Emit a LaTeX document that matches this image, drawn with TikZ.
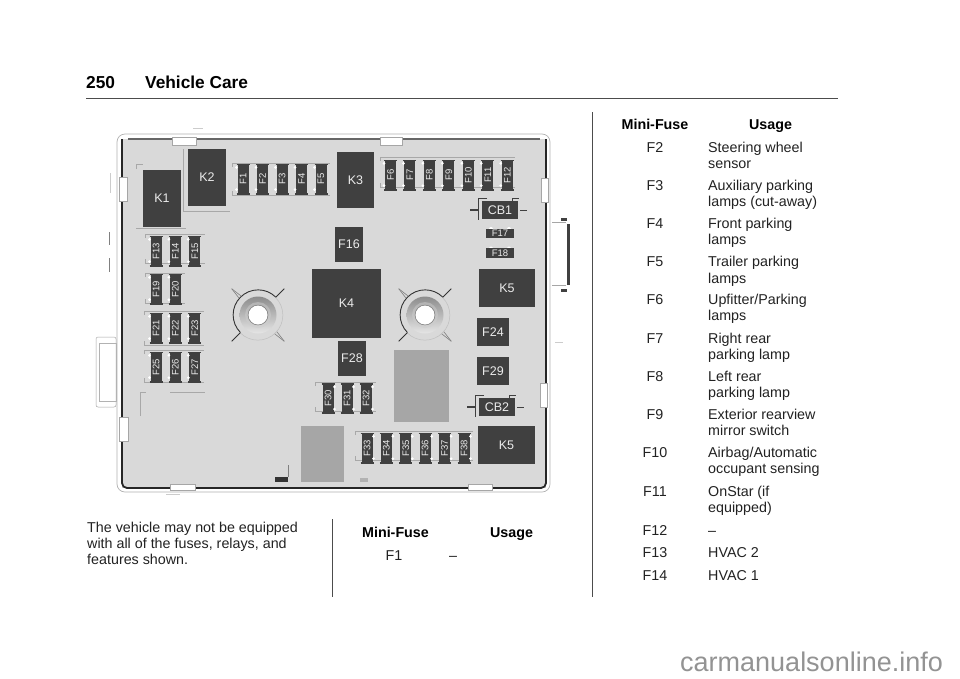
\documentclass[tikz,border=0pt]{standalone}
\usepackage{fontspec}
\setmainfont{Liberation Sans}
\usepackage{tikz}
\usetikzlibrary{positioning}
\definecolor{panelgray}{HTML}{D9D9D9}
\definecolor{partdark}{HTML}{404040}
\definecolor{blockgray}{HTML}{A6A6A6}
\definecolor{seatgray}{HTML}{A8A8A8}
\definecolor{inktext}{HTML}{222222}
\tikzset{
    relay/.style={fill=partdark,text=white!92!black,inner sep=0pt,font=\fontsize{12.5}{14}\selectfont},
    fuse/.style={fill=partdark,text=white!92!black,inner sep=0pt,rotate=90,minimum width=29,minimum height=11,font=\fontsize{9.5}{10}\selectfont},
    flatfuse/.style={fill=partdark,text=white!92!black,inner sep=0pt,minimum width=28,minimum height=9.5,font=\fontsize{9.5}{10}\selectfont},
    seat/.style={draw=seatgray,line width=0.6pt},
    body/.style={anchor=base west,text=inktext,inner sep=0pt,font=\fontsize{14.3}{16}\selectfont},
    bodymid/.style={anchor=base,text=inktext,inner sep=0pt,font=\fontsize{14.3}{16}\selectfont},
    head/.style={anchor=base,text=black,inner sep=0pt,font=\bfseries\fontsize{14.3}{16}\selectfont},
    title/.style={anchor=base west,text=black,inner sep=0pt,font=\bfseries\fontsize{17.3}{20}\selectfont},
    clip tab/.style={fill=white,draw=gray!70,line width=0.5pt},
}
% number, x, y, side of the white dots
\newcommand{\drawfuse}[4]{
        \node[fuse] (F#1) at ({#2},#3) {F#1};
        \draw[partdark,line width=1.6pt] ([xshift=-6.5pt]F#1.east) -- ([xshift=6.5pt]F#1.east);
        \draw[partdark,line width=1.6pt] ([xshift=-6.5pt]F#1.west) -- ([xshift=6.5pt]F#1.west);
        \fill[white] ([xshift=#4*6.5pt,yshift=-3pt]F#1.east) circle (1.5pt);
        \fill[white] ([xshift=#4*6.5pt,yshift=4pt]F#1.west) circle (1.5pt);
}
\begin{document}
\begin{tikzpicture}[x=1pt,y=-1pt]
        \useasboundingbox (0,0) rectangle (960,678);
        \fill[white] (0,0) rectangle (960,678);

        % page head
        \node[title] (pageno) at (86,88) {250};
        \node[title] (pagetitle) at (145,88) {Vehicle Care};
        \coordinate (ruleL) at (86,98.5);
        \coordinate (ruleR) at (838,98.5);
        \draw[black!70,line width=1.2pt] (ruleL) -- (ruleR);

        % housing
        \draw[gray!60,line width=0.7pt,rounded corners=8] (117,134) rectangle (550,492);
        \fill[panelgray] (122,139) rectangle (546,488);
        \draw[gray!80!black,line width=1.2pt] (128,139) -- (540,139);
        \draw[black!85,line width=1.8pt,rounded corners=5] (122,139) -- (122,488) -- (546,488) -- (546,139);

        % tabs around the housing
        \foreach \tx/\ty/\tabw/\tabh in {172/137/24/8,380/137/22/8,170/484/25/6,468/484/24/6,119/177/8/24,119/417/9/24,541/178/7/24,540/383/7/24}
        {
            \draw[clip tab] (\tx,\ty) rectangle ++(\tabw,\tabh);
        }
        \draw[clip tab,rounded corners=2] (96,337) -- (116,337) -- (116,407) -- (96,407) -- cycle;
        \draw[gray!60,line width=0.5pt] (99,343) rectangle (116,401);
        \draw[gray!70,line width=0.6pt] (552,222) -- (566,222);
        \draw[gray!70,line width=0.6pt] (552,285) -- (566,285);
        \draw[partdark,line width=3pt] (568,224) -- (568,285);
        \draw[partdark,line width=3pt] (561,219) -- (567,219);
        \draw[partdark,line width=3pt] (561,290) -- (567,290);

        % stray marks round the housing
        \draw[gray,line width=1pt] (109,232) -- (109,245);
        \draw[gray,line width=1pt] (109,258) -- (109,272);
        \draw[gray!40,line width=0.8pt] (110,173) -- (110,193);
        \draw[gray!40,line width=0.8pt] (193,128) -- (203,128);
        \draw[gray!40,line width=0.8pt] (555,342) -- (563,342);
        \draw[gray!40,line width=0.8pt] (166,494) -- (180,494);

        % seats of the fuse rows
        \foreach \xa/\xb/\ya/\yb in {232/330/163/195,380/515/157/187,145/205/234/263,145/185/273/303,144/204/311/345,144/204/350/382,315/376/382/411,355/473/431/460}
        {
            \draw[seat] (\xa,\ya+4) -- (\xa,\ya) -- (\xb,\ya);
            \draw[seat] (\xa,\yb-4) -- (\xa,\yb) -- (\xb,\yb);
        }
        \draw[seat] (136,169) -- (136,164) -- (143,164);
        \draw[seat] (136,228) -- (186,228);
        \draw[seat] (183,149) -- (183,211) -- (230,211);
        \draw[seat] (140,416) -- (140,392) -- (146,392);
        \draw[seat] (170,392) -- (205,392);

        % grey blocks
        \fill[blockgray] (394,350) rectangle (449,422);
        \fill[blockgray] (301,426) rectangle (344,482);
        \fill[black!80] (275,477) rectangle (288,482);
        \draw[gray,line width=0.8pt] (288,465) -- (288,477);
        \fill[gray!60] (360,478) rectangle (368,482);

        % relays and square fuses
        \foreach \name/\lab/\cx/\cy/\boxw/\boxh in {K1/K1/162/198.5/38/57,K2/K2/207/177.5/38/57,K3/K3/355.5/180/37/56,F16/F16/349/244.5/28/35,K4/K4/346.5/303.5/69/69,K5a/K5/507/288/56/38,F24/F24/493/332/32/28,F29/F29/493/371/32/28,F28/F28/352/358.5/28/35,K5b/K5/506.5/445/57/38,CB1/CB1/500/210/36/18,CB2/CB2/497/407/36/18}
        {
            \node[relay,minimum width=\boxw,minimum height=\boxh] (\name) at (\cx,\cy) {\lab};
        }

        % breaker legs
        \foreach \cb in {CB1,CB2}
        {
            \draw[black!75,line width=0.9pt] ([xshift=-13pt,yshift=12pt]\cb.center) -- ([xshift=-22pt,yshift=12pt]\cb.center) -- ([xshift=-22pt,yshift=-10pt]\cb.center);
            \draw[black!75,line width=2pt] ([xshift=-30pt]\cb.center) -- ([xshift=-22pt]\cb.center);
            \draw[black!75,line width=0.9pt] ([xshift=12pt,yshift=9pt]\cb.center) -- ([xshift=12pt,yshift=12pt]\cb.center) -- ([xshift=19pt,yshift=12pt]\cb.center);
            \draw[black!75,line width=0.9pt] ([xshift=20pt]\cb.center) -- ([xshift=27pt]\cb.center);
        }

        % fuses lying flat
        \foreach \n/\cy in {17/233.5,18/253}
        {
            \fill[white] (491,\cy-4.5) circle (2pt);
            \fill[white] (509,\cy-4.5) circle (2pt);
            \node[flatfuse] (F\n) at (500,\cy) {F\n};
        }

        % fuse rows
        \foreach \n [count=\i from 0] in {1,...,5}
        {
            \drawfuse{\n}{243+19.5*\i}{179}{-1}
        }
        \foreach \n [count=\i from 0] in {6,...,12}
        {
            \drawfuse{\n}{390.5+19.45*\i}{175}{-1}
        }
        \foreach \n [count=\i from 0] in {13,14,15}
        {
            \drawfuse{\n}{156+19.4*\i}{251}{-1}
        }
        \foreach \n [count=\i from 0] in {19,20}
        {
            \drawfuse{\n}{156+19.4*\i}{289}{-1}
        }
        \foreach \n [count=\i from 0] in {21,22,23}
        {
            \drawfuse{\n}{156+19.4*\i}{328}{-1}
        }
        \foreach \n [count=\i from 0] in {25,26,27}
        {
            \drawfuse{\n}{156+19.4*\i}{367}{-1}
        }
        \foreach \n [count=\i from 0] in {30,31,32}
        {
            \drawfuse{\n}{328+19*\i}{398.5}{1}
        }
        \foreach \n [count=\i from 0] in {33,...,38}
        {
            \drawfuse{\n}{367+19.4*\i}{448}{1}
        }

        % mounting bolts
        \foreach \bolt/\cx in {boltL/258,boltR/425}
        {
            \node[circle,minimum size=50,inner sep=0pt] (\bolt) at (\cx,315) {};
            \shade[top color=gray!90,bottom color=white!90!black] (\bolt.center) circle (18.5pt);
            \shade[top color=gray!60,bottom color=gray!35] (\bolt.center) circle (13pt);
            \fill[white] (\bolt.center) circle (9.5pt);
            \draw[gray,line width=0.5pt] (\bolt.center) circle (10pt);
            \draw[black!80,line width=0.9pt] (\bolt.45) arc[start angle=45,end angle=225,radius=25pt];
            \draw[gray!50,line width=0.5pt] (\bolt.225) arc[start angle=225,end angle=405,radius=25pt];
            \draw[black!80,line width=0.9pt] (\bolt.45) -- ([shift={(45:12pt)}]\bolt.45);
            \draw[black!80,line width=0.9pt] (\bolt.225) -- ([shift={(225:12pt)}]\bolt.225);
            \draw[gray,line width=0.6pt] ([shift={(45:1.5pt)}]\bolt.135) -- ([shift={(135:12pt)}]\bolt.135);
            \draw[gray,line width=0.6pt] ([shift={(45:-1.5pt)}]\bolt.135) -- ([shift={(135:12pt)}]\bolt.135);
            \draw[gray,line width=0.6pt] ([shift={(45:1.5pt)}]\bolt.315) -- ([shift={(315:12pt)}]\bolt.315);
            \draw[gray,line width=0.6pt] ([shift={(45:-1.5pt)}]\bolt.315) -- ([shift={(315:12pt)}]\bolt.315);
        }

        % column rules
        \coordinate (colAtop) at (332,519);
        \coordinate (colAend) at (332,597);
        \coordinate (colBtop) at (592,112);
        \coordinate (colBend) at (592,597);
        \draw[black!70,line width=1pt] (colAtop) -- (colAend);
        \draw[black!70,line width=1pt] (colBtop) -- (colBend);

        % first column
        \node[anchor=north west,align=left,text=inktext,inner sep=0pt,font=\fontsize{14.3}{16}\selectfont] (note) at (87,522) {The vehicle may not be equipped\\with all of the fuses, relays, and\\features shown.};

        % second column
        \node[head] (headA) at (395.5,537) {Mini-Fuse};
        \node[head] (useA) at (511.5,537) {Usage};
        \node[bodymid] (rowF1) at (394,560) {F1};
        \node[body] (useF1) at (449,560) {–};

        % third column
        \node[head] (headB) at (655,129) {Mini-Fuse};
        \node[head] (useB) at (770.5,129) {Usage};
        \foreach \lab/\yy in {F2/152,F3/190,F4/228,F5/266,F6/304,F7/343,F8/381,F9/419,F10/457,F11/496,F12/535,F13/557,F14/580}
        {
            \node[bodymid] (row\lab) at (655,\yy) {\lab};
        }
        \node[body] (useF2) at (708,152) {Steering wheel};
        \node[body] at (708,168) {sensor};
        \node[body] (useF3) at (708,190) {Auxiliary parking};
        \node[body] at (708,206) {lamps (cut-away)};
        \node[body] (useF4) at (708,228) {Front parking};
        \node[body] at (708,244) {lamps};
        \node[body] (useF5) at (708,266) {Trailer parking};
        \node[body] at (708,283) {lamps};
        \node[body] (useF6) at (708,304) {Upfitter/Parking};
        \node[body] at (708,320) {lamps};
        \node[body] (useF7) at (708,343) {Right rear};
        \node[body] at (708,359) {parking lamp};
        \node[body] (useF8) at (708,381) {Left rear};
        \node[body] at (708,397) {parking lamp};
        \node[body] (useF9) at (708,419) {Exterior rearview};
        \node[body] at (708,435) {mirror switch};
        \node[body] (useF10) at (708,457) {Airbag/Automatic};
        \node[body] at (708,473) {occupant sensing};
        \node[body] (useF11) at (708,496) {OnStar (if};
        \node[body] at (708,512) {equipped)};
        \node[body] (useF12) at (708,535) {–};
        \node[body] (useF13) at (708,557) {HVAC 2};
        \node[body] (useF14) at (708,580) {HVAC 1};

        \node[anchor=base west,text=gray!85,inner sep=0pt,font=\fontsize{27}{30}\selectfont] (mark) at (680,671) {carmanualsonline.info};
\end{tikzpicture}
\end{document}
